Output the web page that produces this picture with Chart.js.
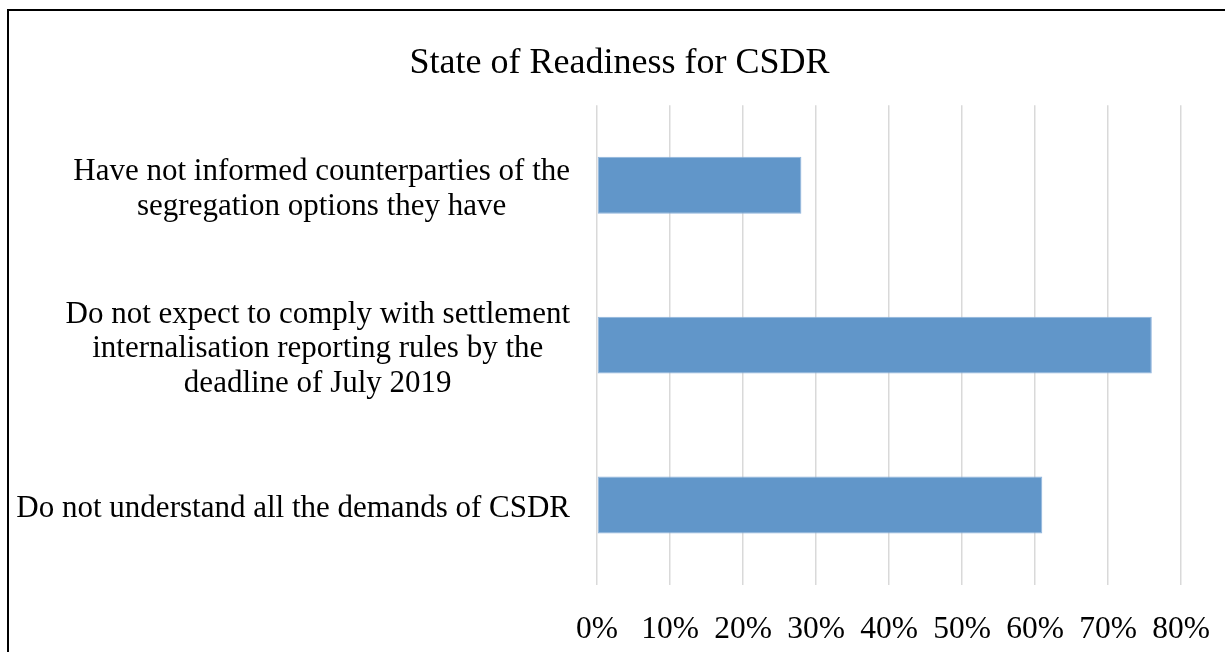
<!DOCTYPE html>
<html>
<head>
<meta charset="utf-8">
<title>State of Readiness for CSDR</title>
<script src="https://cdn.jsdelivr.net/npm/chart.js@4"></script>
<style>
  html, body { margin: 0; padding: 0; background: #fff; }
  #wrap { position: relative; width: 1225px; height: 652px; overflow: hidden; }
  #frame { position: absolute; left: 7px; top: 9px; width: 1300px; height: 700px;
           border-left: 2px solid #000; border-top: 2px solid #000; pointer-events: none; }
  canvas { position: absolute; left: 0; top: 0; }
</style>
</head>
<body>
<div id="wrap">
  <canvas id="myChart" width="1225" height="652"></canvas>
  <div id="frame"></div>
</div>
<script>
const categories = [
  ['Have not informed counterparties of the', 'segregation options they have'],
  ['Do not expect to comply with settlement', 'internalisation reporting rules by the', 'deadline of July 2019'],
  ['Do not understand all the demands of CSDR']
];
const shares = [28, 76, 61];
const tickValues = [0, 10, 20, 30, 40, 50, 60, 70, 80];

const FONT = '"Liberation Serif", "Times New Roman", serif';

// category labels: block right-aligned to the axis, each line centred inside the block
const categoryLabels = {
  id: 'categoryLabels',
  afterDraw(chart) {
    const ctx = chart.ctx;
    const y = chart.scales.y;
    const right = 570;
    const lineH = 34.5;
    ctx.save();
    ctx.font = '31px ' + FONT;
    ctx.fillStyle = '#000';
    ctx.textAlign = 'center';
    ctx.textBaseline = 'middle';
    categories.forEach((lines, i) => {
      const w = Math.max(...lines.map(l => ctx.measureText(l).width));
      const cx = right - w / 2;
      const cy = y.getPixelForValue(i) + 4;
      const y0 = cy - (lines.length - 1) * lineH / 2;
      lines.forEach((l, j) => ctx.fillText(l, cx, y0 + j * lineH));
    });
    ctx.restore();
  }
};

new Chart(document.getElementById('myChart'), {
  type: 'bar',
  data: {
    labels: categories.map(c => c.join(' ')),
    datasets: [{
      data: shares,
      backgroundColor: '#6196c9',
      borderColor: '#8fb4dc',
      borderWidth: 1,
      borderSkipped: false,
      categoryPercentage: 1,
      barPercentage: 0.356
    }]
  },
  options: {
    indexAxis: 'y',
    responsive: false,
    animation: false,
    layout: { padding: { left: 14, right: 0, top: 0, bottom: 0 } },
    plugins: {
      legend: { display: false },
      tooltip: { enabled: false },
      title: {
        display: true,
        text: 'State of Readiness for CSDR',
        color: '#000',
        font: { family: FONT, size: 36, weight: 'normal', lineHeight: 1.2 },
        padding: { top: 42, bottom: 20 }
      }
    },
    scales: {
      x: {
        min: 0,
        max: 80,
        afterBuildTicks: s => { s.ticks = tickValues.map(v => ({ value: v })); },
        afterFit: s => { s.height = 67; s.paddingRight = 44; s.paddingLeft = 0; },
        border: { display: false },
        grid: { color: '#d9d9d9', lineWidth: 1.5, drawTicks: false },
        ticks: {
          padding: 26,
          color: '#000',
          font: { family: FONT, size: 31.5 },
          maxRotation: 0,
          callback: v => v + '%'
        }
      },
      y: {
        afterFit: s => { s.width = 583; },
        border: { display: false },
        grid: { display: false },
        ticks: { display: false }
      }
    }
  },
  plugins: [categoryLabels]
});
</script>
</body>
</html>
